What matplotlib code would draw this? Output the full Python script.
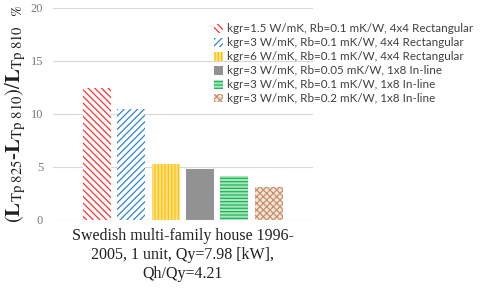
import numpy as np
import matplotlib
matplotlib.use("Agg")
import matplotlib.pyplot as plt
from matplotlib.patches import Patch

# data
category = "Swedish multi-family house 1996-\n2005, 1 unit, Qy=7.98 [kW],\nQh/Qy=4.21"
series_labels = [
    "kgr=1.5 W/mK, Rb=0.1 mK/W, 4x4 Rectangular",
    "kgr=3 W/mK, Rb=0.1 mK/W, 4x4 Rectangular",
    "kgr=6 W/mK, Rb=0.1 mK/W, 4x4 Rectangular",
    "kgr=3 W/mK, Rb=0.05 mK/W, 1x8 In-line",
    "kgr=3 W/mK, Rb=0.1 mK/W, 1x8 In-line",
    "kgr=3 W/mK, Rb=0.2 mK/W, 1x8 In-line",
]
values = [12.45, 10.45, 5.3, 4.85, 4.15, 3.15]
yticks = [0, 5, 10, 15, 20]

# styles: (facecolor, hatch colour, hatch)
styles = [
    ("white", "#FF3333", "\\" * 5),
    ("white", "#2E86D6", "/" * 5),
    ("#FFE28A", "#FFC000", "|" * 5),
    ("#929292", "#929292", None),
    ("#A8E6BC", "#1DB35A", "-" * 5),
    ("#F6E6DA", "#C8906A", "x" * 5),
]

plt.rcParams["hatch.linewidth"] = 0.9
plt.rcParams["mathtext.fontset"] = "stix"
fig = plt.figure(figsize=(4.8, 2.94), dpi=100)
ax = fig.add_axes([0.110, 0.252, 0.542, 0.721])

width = 0.108
step = 0.132
offsets = (np.arange(len(values)) - 2.5) * step
handles = []
for off, v, lab, (fc, hc, h) in zip(offsets, values, series_labels, styles):
    ax.bar(off, v, width=width, facecolor=fc, edgecolor=hc, hatch=h, linewidth=0)
    handles.append(Patch(facecolor=fc, edgecolor=hc, hatch=h, linewidth=0, label=lab))

ax.set_xlim(-0.5, 0.5)
ax.set_ylim(0, 20)
ax.set_yticks(yticks)
ax.set_xticks([0])
ax.set_xticklabels([category], family="Liberation Serif", fontsize=11.5,
                   color="#202020", linespacing=1.25)
ax.tick_params(axis="x", length=0, pad=6)
ax.tick_params(axis="y", length=0, pad=7, labelsize=9, labelcolor="#7a7a7a")
for t in ax.get_yticklabels():
    t.set_family("Liberation Serif")
ax.grid(axis="y", color="#D9D9D9", linewidth=0.8)
ax.set_axisbelow(True)
for s in ax.spines.values():
    s.set_visible(False)
ax.axhline(0, color="#D9D9D9", linewidth=0.8)

ax.set_ylabel(r"$(\mathbf{L}_{\mathrm{Tp\ 825}}$-$\mathbf{L}_{\mathrm{Tp\ 810}})/\mathbf{L}_{\mathrm{Tp\ 810}\ \ \ \%}$",
              family="Liberation Serif", fontsize=15, color="#202020", labelpad=2)

fig.legend(handles=handles, loc="upper left", bbox_to_anchor=(0.433, 0.94),
           frameon=False, prop={"family": "Lato", "size": 8.4},
           handlelength=0.8, handleheight=0.8, handletextpad=0.3,
           labelspacing=0.25, borderpad=0, labelcolor="#404040")

fig.savefig("out.png", dpi=100)
